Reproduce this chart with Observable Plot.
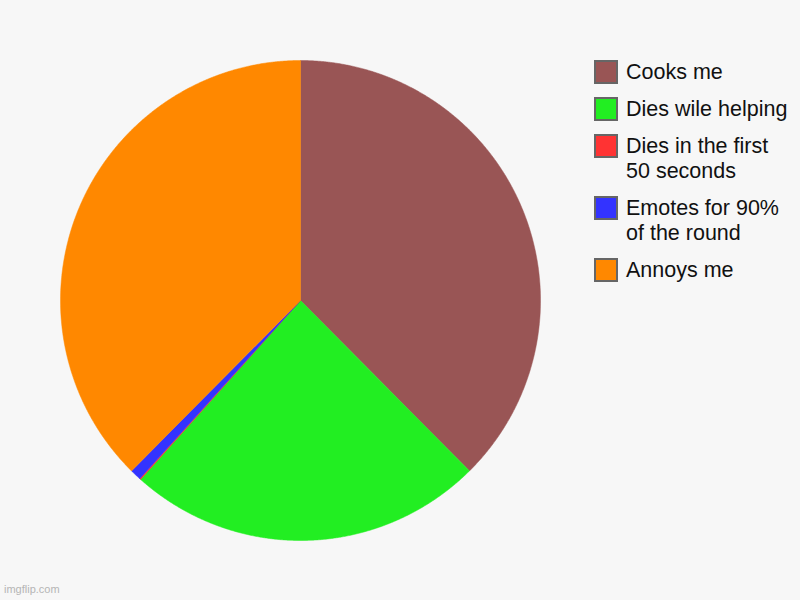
<!DOCTYPE html>
<html>
<head>
<meta charset="utf-8">
<script src="https://cdn.jsdelivr.net/npm/d3@7"></script>
<script src="https://cdn.jsdelivr.net/npm/@observablehq/plot@0.6"></script>
<style>
  html, body { margin: 0; padding: 0; background: #f7f7f7; }
  #wrap { position: relative; width: 800px; height: 600px; background: #f7f7f7; font-family: "Liberation Sans", Arial, sans-serif; }
  #legend { position: absolute; left: 594px; top: 60px; }
  .item { display: flex; align-items: flex-start; margin-bottom: 12px; }
  .sw { width: 20px; height: 20px; border: 2px solid #666; box-sizing: content-box; flex: none; }
  .lbl { margin-left: 8px; font-size: 21.5px; line-height: 25px; color: #111; max-width: 166px; margin-top: 0px; }
  #mark { position: absolute; left: 4px; top: 583px; font-size: 11px; color: #b5b5b5; }
</style>
</head>
<body>
<div id="wrap">
  <div id="chart"></div>
  <div id="legend"></div>
  <div id="mark">imgflip.com</div>
</div>
<script>
const categories = ["Cooks me", "Dies wile helping", "Dies in the first 50 seconds", "Emotes for 90% of the round", "Annoys me"];
const values = [50, 32, 0.1, 1, 50];
const colors = ["#995555", "#22ee22", "#ff3333", "#3333ff", "#ff8800"];

const rows = categories.map((name, i) => ({name, value: values[i]}));
const arcs = d3.pie().sort(null).value(d => d.value)(rows);

// Build slice outlines from the pie angles (unit circle; scales map to pixels)
const pts = [];
for (const a of arcs) {
  const name = a.data.name;
  pts.push({name, x: 0, y: 0});
  const n = Math.max(2, Math.ceil((a.endAngle - a.startAngle) / (Math.PI / 720)));
  for (let k = 0; k <= n; k++) {
    const t = a.startAngle + (a.endAngle - a.startAngle) * k / n;
    pts.push({name, x: Math.sin(t), y: Math.cos(t)});
  }
  pts.push({name, x: 0, y: 0});
}

const chart = Plot.plot({
  width: 800,
  height: 600,
  margin: 0,
  style: {background: "#f7f7f7"},
  x: {domain: [-1, 1], range: [60, 540], axis: null},
  y: {domain: [-1, 1], range: [540, 60], axis: null},
  color: {domain: categories, range: colors},
  marks: [
    Plot.line(pts, {x: "x", y: "y", z: "name", fill: "name", stroke: "name", strokeWidth: 0.5, curve: "linear"})
  ]
});
document.getElementById("chart").appendChild(chart);

const legend = document.getElementById("legend");
categories.forEach((c, i) => {
  const item = document.createElement("div");
  item.className = "item";
  const sw = document.createElement("div");
  sw.className = "sw";
  sw.style.background = colors[i];
  const lbl = document.createElement("div");
  lbl.className = "lbl";
  lbl.textContent = c;
  item.appendChild(sw);
  item.appendChild(lbl);
  legend.appendChild(item);
});
</script>
</body>
</html>
